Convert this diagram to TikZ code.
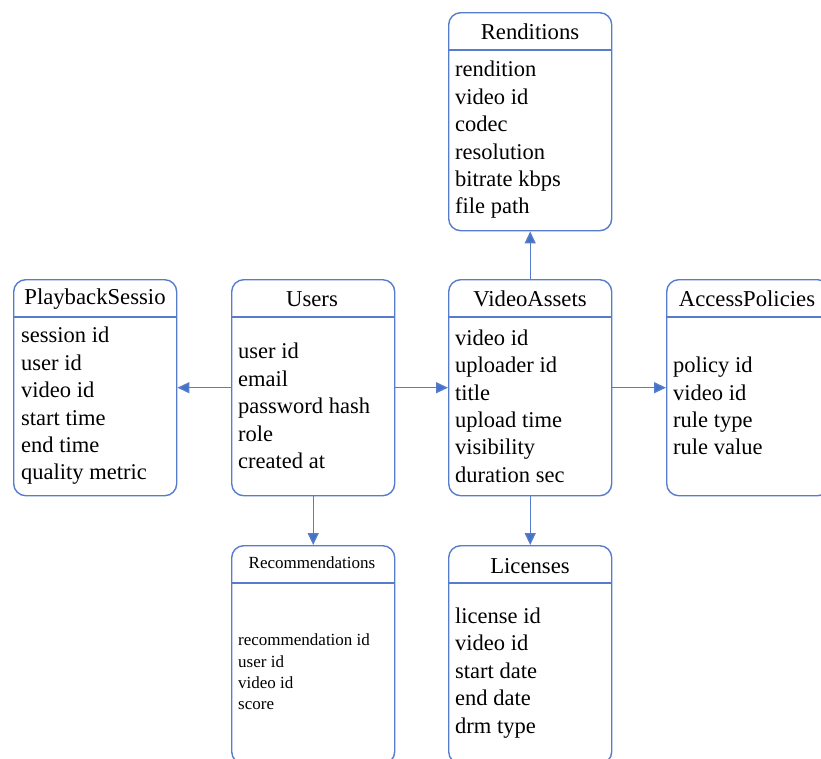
\documentclass[tikz,border=0pt]{standalone}
\usepackage{fontspec}
\setmainfont{Liberation Serif}
\usetikzlibrary{arrows.meta}
\definecolor{edge}{RGB}{88,124,204}
\definecolor{tip}{RGB}{68,114,196}
\tikzset{
  tbl/.style={draw=edge, line width=1.4pt, rounded corners=12pt, minimum width=163pt,
              anchor=north west, inner sep=0pt},
  ttl/.style={font=\fontsize{22.7}{26}\selectfont, inner sep=0pt},
  fld/.style={font=\fontsize{22.5}{27.4}\selectfont, align=left, anchor=west, inner sep=0pt},
  ttlsmall/.style={font=\fontsize{17}{19}\selectfont, inner sep=0pt},
  fldsmall/.style={font=\fontsize{17}{21.3}\selectfont, align=left, anchor=west, inner sep=0pt},
  divider/.style={draw=edge, line width=1.4pt},
  link/.style={draw=edge, line width=1.4pt, -{Triangle[length=12pt,width=11pt,fill=tip]}}
}
\begin{document}
\begin{tikzpicture}[x=1pt,y=-1pt]
\useasboundingbox (0,0) rectangle (821,758);
\clip (0,0) rectangle (821,758);

% table boxes
\node[tbl, minimum height=218pt] (rend) at (448,12) {};
\node[tbl, minimum height=216pt] (play) at (13,279) {};
\node[tbl, minimum height=216pt] (users) at (231,279) {};
\node[tbl, minimum height=216pt] (video) at (448,279) {};
\node[tbl, minimum height=216pt] (access) at (666,279) {};
\node[tbl, minimum height=218pt] (recs) at (231,545) {};
\node[tbl, minimum height=218pt] (lic) at (448,545) {};

% header dividers
\foreach \b in {rend,play,users,video,access,recs,lic}
  \draw[divider] ([yshift=-38pt]\b.north west) -- ([yshift=-38pt]\b.north east);

% titles
\node[ttl] (rendT) at (530,32) {Renditions};
\node[ttl] (playT) at (95,299) {PlaybackSessio};
\node[ttl] (usersT) at (312,299) {Users};
\node[ttl] (videoT) at (530,299) {VideoAssets};
\node[ttl] (accessT) at (747,299) {AccessPolicies};
\node[ttlsmall] (recsT) at (312,563) {Recommendations};
\node[ttl] (licT) at (530,566) {Licenses};

% fields
\node[fld] (rendF) at (455,140) {rendition\\video id\\codec\\resolution\\bitrate kbps\\file path};
\node[fld] (playF) at (21,406) {session id\\user id\\video id\\start time\\end time\\quality metric};
\node[fld] (usersF) at (238,406) {user id\\email\\password hash\\role\\created at};
\node[fld] (videoF) at (455,406) {video id\\uploader id\\title\\upload time\\visibility\\duration sec};
\node[fld] (accessF) at (673,406) {policy id\\video id\\rule type\\rule value};
\node[fldsmall] (recsF) at (238,672) {recommendation id\\user id\\video id\\score};
\node[fld] (licF) at (455,673) {license id\\video id\\start date\\end date\\drm type};

% relationships
\draw[link] (users.west) -- (play.east);
\draw[link] (users.east) -- (video.west);
\draw[link] (video.east) -- (access.west);
\draw[link] (video.north) -- (rend.south);
\draw[link] (video.south) -- (lic.north);
\draw[link] (users.south) -- (recs.north);
\end{tikzpicture}
\end{document}
